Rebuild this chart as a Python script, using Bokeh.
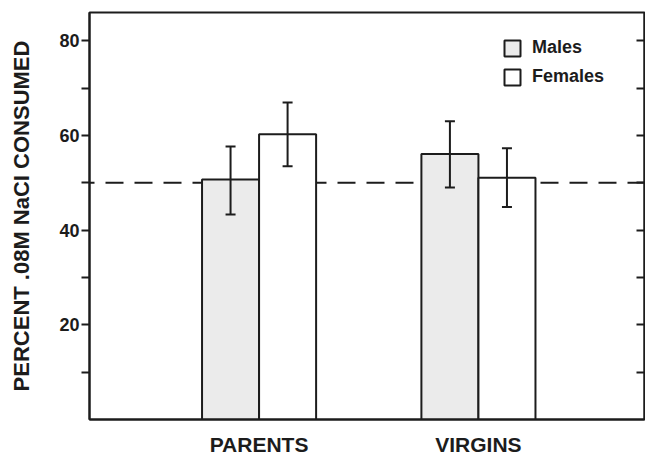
from bokeh.plotting import figure
from bokeh.models import (Range1d, FixedTicker, LinearAxis, Span, Whisker, TeeHead,
                          ColumnDataSource, Legend, LegendItem)
from bokeh.embed import file_html
from bokeh.resources import INLINE

# ---- data ----
groups = ["PARENTS", "VIRGINS"]
series = ["Males", "Females"]
males = [50.7, 56.1]
males_lo = [43.3, 49.0]
males_hi = [57.7, 63.0]
females = [60.3, 51.1]
females_lo = [53.5, 44.9]
females_hi = [67.0, 57.3]
y_major = [20, 40, 60, 80]
y_minor = [10, 30, 50, 70]
right_ticks = [10, 20, 30, 40, 50, 60, 70, 80]
chance_level = 50

# ---- styling ----
BAR_W = 0.26
FONT = "Liberation Sans"
INK = "#1c1c1c"
MALE_FILL = "#ebebeb"
FEMALE_FILL = "#ffffff"

p = figure(width=645, height=458, output_backend="svg", toolbar_location=None,
           x_range=Range1d(-0.773, 1.757), y_range=Range1d(0, 86),
           min_border_left=89, min_border_top=12, min_border_right=1,
           min_border_bottom=38, background_fill_color="white",
           border_fill_color="white")
p.xgrid.visible = False
p.ygrid.visible = False
p.outline_line_color = INK
p.outline_line_width = 2

idx = list(range(len(groups)))
xm = [i - BAR_W / 2 for i in idx]
xf = [i + BAR_W / 2 for i in idx]

# chance line, under bars
p.add_layout(Span(location=chance_level, dimension="width", line_color=INK,
                  line_width=2, line_dash="18 11", line_dash_offset=13,
                  level="underlay"))

rm = p.vbar(x=xm, top=males, bottom=0, width=BAR_W, fill_color=MALE_FILL,
            line_color=INK, line_width=2)
rf = p.vbar(x=xf, top=females, bottom=0, width=BAR_W, fill_color=FEMALE_FILL,
            line_color=INK, line_width=2)

for xs, lo, hi in ((xm, males_lo, males_hi), (xf, females_lo, females_hi)):
    src = ColumnDataSource(dict(x=xs, lower=lo, upper=hi))
    p.add_layout(Whisker(source=src, base="x", lower="lower", upper="upper",
                         line_color=INK, line_width=2, level="overlay",
                         upper_head=TeeHead(size=10, line_color=INK, line_width=2),
                         lower_head=TeeHead(size=10, line_color=INK, line_width=2)))

# x axis
xa = p.xaxis[0]
xa.ticker = FixedTicker(ticks=idx)
xa.major_label_overrides = {i: g for i, g in zip(idx, groups)}
xa.major_tick_out = 0
xa.major_tick_in = 0
xa.minor_tick_out = 0
xa.minor_tick_in = 0
xa.axis_line_color = INK
xa.axis_line_width = 2
xa.major_label_standoff = 13
xa.major_label_text_font = FONT
xa.major_label_text_font_style = "bold"
xa.major_label_text_font_size = "21px"
xa.major_label_text_color = INK

# left y axis
ya = p.yaxis[0]
ya.ticker = FixedTicker(ticks=y_major, minor_ticks=y_minor)
ya.major_tick_out = 8
ya.major_tick_in = 0
ya.minor_tick_out = 8
ya.minor_tick_in = 0
ya.major_tick_line_width = 2
ya.minor_tick_line_width = 2
ya.major_tick_line_color = INK
ya.minor_tick_line_color = INK
ya.axis_line_color = INK
ya.axis_line_width = 2
ya.major_label_standoff = 2
ya.major_label_text_font = FONT
ya.major_label_text_font_style = "bold"
ya.major_label_text_font_size = "18px"
ya.major_label_text_color = INK
ya.axis_label = "PERCENT .08M NaCI CONSUMED"
ya.axis_label_text_font = FONT
ya.axis_label_text_font_style = "bold"
ya.axis_label_text_font_size = "22px"
ya.axis_label_text_color = INK
ya.axis_label_standoff = 22

# right axis: inward ticks only
ra = LinearAxis(ticker=FixedTicker(ticks=right_ticks, minor_ticks=[]),
                major_tick_in=8, major_tick_out=0, minor_tick_in=0, minor_tick_out=0,
                major_label_overrides={t: "" for t in right_ticks},
                major_label_standoff=0, axis_line_color=INK, axis_line_width=2,
                major_tick_line_color=INK, major_tick_line_width=2)
p.add_layout(ra, "right")

legend = Legend(items=[LegendItem(label=series[0], renderers=[rm]),
                       LegendItem(label=series[1], renderers=[rf])],
                location=(413, 332), glyph_width=20, glyph_height=20,
                label_standoff=10, spacing=8, padding=0, margin=0,
                label_height=20, border_line_color=None, background_fill_alpha=0,
                label_text_font=FONT, label_text_font_style="bold",
                label_text_font_size="18px", label_text_color=INK)
p.add_layout(legend)

open("out.html", "w").write(file_html(p, INLINE))
